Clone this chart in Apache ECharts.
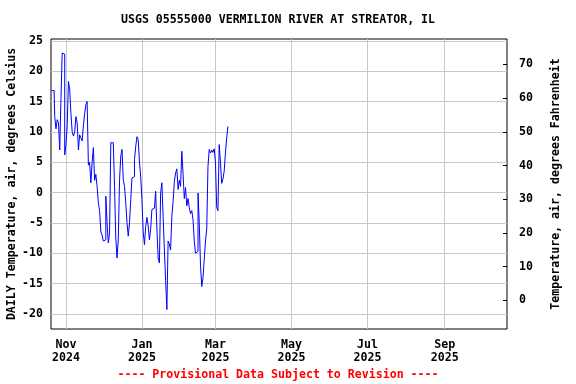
<!DOCTYPE html>
<html>
<head>
<meta charset="utf-8">
<script src="https://cdn.jsdelivr.net/npm/echarts@6/dist/echarts.min.js"></script>
<style>html,body{margin:0;padding:0;background:#fff}#c{width:576px;height:384px}</style>
</head>
<body>
<div id="c"></div>
<script>
// ---- data ----
var titleText = 'USGS 05555000 VERMILION RIVER AT STREATOR, IL';
var footerText = '---- Provisional Data Subject to Revision ----';
var leftAxisName = 'DAILY Temperature, air, degrees Celsius';
var rightAxisName = 'Temperature, air, degrees Fahrenheit';
var startDate = [2024, 9, 20]; // 2024-10-20, first daily value
var dailyTempC = [
  16.8, 16.8, 16.8, 12.5, 10.5, 12.0, 11.5, 7.0, 15.5, 23.0,
  22.8, 6.2, 7.9, 11.0, 18.3, 17.0, 13.0, 10.0, 9.3, 10.0,
  12.5, 11.5, 7.0, 9.5, 9.0, 8.5, 11.0, 13.0, 14.5, 15.0,
  4.5, 5.0, 1.6, 5.0, 7.4, 2.0, 3.0, 1.0, -1.7, -3.0,
  -6.5, -7.0, -8.0, -7.8, -0.6, -5.0, -8.3, -6.7, 8.2, 8.2,
  8.0, 1.0, -7.5, -10.8, -7.8, 2.0, 6.0, 7.1, 2.1, 1.0,
  -1.7, -5.0, -7.2, -5.0, -1.2, 2.4, 2.6, 5.4, 7.6, 9.2,
  8.7, 5.0, 2.6, -1.2, -6.5, -8.6, -5.6, -4.1, -5.5, -7.8,
  -6.0, -2.8, -2.6, -2.4, 0.2, -6.0, -10.8, -11.6, -0.1, 1.6,
  -4.0, -9.5, -14.5, -19.3, -8.0, -8.5, -9.5, -3.9, -1.5, 1.8,
  3.2, 3.9, 0.5, 2.0, 1.0, 6.8, 3.0, -1.0, 0.8, -2.2,
  -1.0, -2.5, -3.5, -3.0, -4.5, -8.0, -10.0, -9.7, -0.1, -5.0,
  -12.0, -15.5, -14.0, -11.0, -8.0, -6.0, 4.3, 7.1, 6.5, 7.0,
  6.6, 7.2, 5.0, -2.5, -3.0, 7.9, 5.0, 1.5, 2.2, 3.5,
  6.5, 9.0, 10.9
];
var xRange = ['2024-10-20', '2025-10-21'];
var monthTicks = ['2024-11-01', '2025-01-01', '2025-03-01', '2025-05-01', '2025-07-01', '2025-09-01'];
var monthNames = ['Jan','Feb','Mar','Apr','May','Jun','Jul','Aug','Sep','Oct','Nov','Dec'];
var celsiusTicks = [25, 20, 15, 10, 5, 0, -5, -10, -15, -20];
var fahrenheitTicks = [0, 10, 20, 30, 40, 50, 60, 70];
var celsiusRange = [-22.5, 25.3];

// ---- build ----
function parseD(s) { var p = s.split('-'); return new Date(+p[0], +p[1] - 1, +p[2]).getTime(); }
var seriesData = dailyTempC.map(function (v, i) {
  return [new Date(startDate[0], startDate[1], startDate[2] + i, 12).getTime(), v];
});
var fRange = [celsiusRange[0] * 1.8 + 32, celsiusRange[1] * 1.8 + 32];
var monthTickVals = monthTicks.map(parseD);
var FONT = 'DejaVu Sans Mono';

var chart = echarts.init(document.getElementById('c'), null, { renderer: 'canvas' });
chart.setOption({
  animation: false,
  backgroundColor: '#fff',
  graphic: [{
    type: 'text', x: 278, y: 20,
    style: { text: titleText, fill: '#000', font: 'bold 11.6px "DejaVu Sans Mono"', textAlign: 'center', textVerticalAlign: 'middle' }
  }, {
    type: 'text', x: 278, y: 375,
    style: { text: footerText, fill: '#ff0000', font: 'bold 11.6px "DejaVu Sans Mono"', textAlign: 'center', textVerticalAlign: 'middle' }
  }],
  grid: { left: 51, right: 69, top: 39, bottom: 55, outerBoundsMode: 'none', containLabel: false, show: true, borderColor: '#000', borderWidth: 1, backgroundColor: 'transparent' },
  xAxis: {
    type: 'value',
    min: parseD(xRange[0]), max: parseD(xRange[1]),
    axisLine: { show: false },
    axisTick: { show: true, length: 0, customValues: monthTickVals },
    splitLine: { show: true, lineStyle: { color: '#c8c8c8', width: 1 } },
    axisLabel: {
      customValues: monthTickVals,
      fontFamily: FONT, fontSize: 11.6, fontWeight: 'bold', color: '#000', lineHeight: 13, margin: 9,
      formatter: function (v) { var d = new Date(v); return monthNames[d.getMonth()] + '\n' + d.getFullYear(); }
    }
  },
  yAxis: [{
    type: 'value', position: 'left',
    min: celsiusRange[0], max: celsiusRange[1],
    name: leftAxisName, nameLocation: 'middle', nameGap: 33, nameRotate: 90, nameMoveOverlap: false,
    nameTextStyle: { fontFamily: FONT, fontSize: 11.6, fontWeight: 'bold', color: '#000' },
    axisLine: { show: false },
    axisTick: { show: true, length: 0, customValues: celsiusTicks },
    splitLine: { show: true, lineStyle: { color: '#c8c8c8', width: 1 } },
    axisLabel: { customValues: celsiusTicks, fontFamily: FONT, fontSize: 11.6, fontWeight: 'bold', color: '#000', margin: 8 }
  }, {
    type: 'value', position: 'right',
    min: fRange[0], max: fRange[1],
    name: rightAxisName, nameLocation: 'middle', nameGap: 43, nameRotate: 90, nameMoveOverlap: false,
    nameTextStyle: { fontFamily: FONT, fontSize: 11.6, fontWeight: 'bold', color: '#000' },
    axisLine: { show: false },
    axisTick: { show: true, inside: true, length: 4, customValues: fahrenheitTicks, lineStyle: { color: '#000' } },
    splitLine: { show: false },
    axisLabel: { customValues: fahrenheitTicks, fontFamily: FONT, fontSize: 11.6, fontWeight: 'bold', color: '#000', margin: 12 }
  }],
  series: [{
    type: 'line', yAxisIndex: 0, data: seriesData,
    step: 'middle', showSymbol: false, symbol: 'none',
    lineStyle: { color: '#0000ff', width: 1 }
  }]
});
</script>
</body>
</html>
